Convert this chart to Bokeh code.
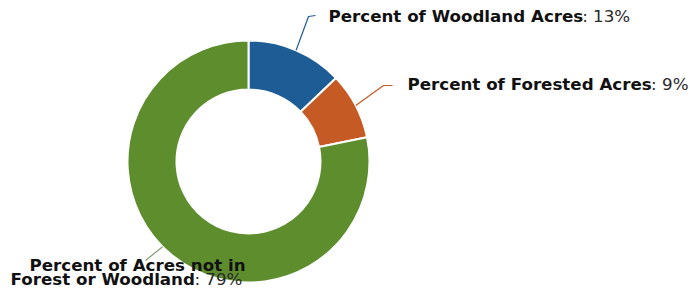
import math
from bokeh.plotting import figure
from bokeh.models import Range1d
from bokeh.core.properties import value
from bokeh.embed import file_html
from bokeh.resources import INLINE

# ---- data ----
categories = ["Percent of Woodland Acres", "Percent of Forested Acres",
              "Percent of Acres not in Forest or Woodland"]
percents = [13, 9, 79]
colors = ["#1e5c96", "#c65a24", "#5e8d2e"]
label_bold_lines = [["Percent of Woodland Acres"], ["Percent of Forested Acres"],
                    ["Percent of Acres not in", "Forest or Woodland"]]
label_values = [": 13%", ": 9%", ": 79%"]

# ---- layout ----
W, H = 690, 292
cx, cy = 248, 131
r_in, r_out = 72, 121
FS = 16.7
# approximate DejaVu Sans Bold advance widths (em)
bold_w = {'P': .733, 'e': .678, 'r': .493, 'c': .593, 'n': .712, 't': .435, ' ': .348,
          'o': .687, 'f': .435, 'W': 1.031, 'd': .716, 'l': .343, 'a': .675, 'A': .774,
          's': .595, 'F': .683, 'i': .343}


def bw(s):
    return sum(bold_w.get(ch, .65) for ch in s) * FS


# label anchors (left x, baseline y of first line), line gap, indent of later lines
label_pos = [(328, 277), (407, 209), (29, 27.5)]
line_gap = 13.5
line_indent = [0, 0, -19]
leader_pts = [(308, 276, 315, 277), (383, 207, 392, 207), (145, 32, 145, 32)]
leader_ang_offset = [0, 0, 6]
leader_colors = ["#1e5c96", "#c65a24", "#8a9a70"]

p = figure(width=W, height=H, output_backend="svg", toolbar_location=None,
           x_range=Range1d(0, W), y_range=Range1d(0, H), min_border=0)
p.axis.visible = False
p.grid.visible = False
p.outline_line_color = None
p.background_fill_color = "white"
p.border_fill_color = "white"

total = sum(percents)
cum = 0
mids = []
for v, c in zip(percents, colors):
    a0 = math.pi / 2 - 2 * math.pi * cum / total
    a1 = math.pi / 2 - 2 * math.pi * (cum + v) / total
    p.annular_wedge(x=cx, y=cy, inner_radius=r_in, outer_radius=r_out,
                    start_angle=a0, end_angle=a1, direction="clock",
                    fill_color=c, line_color="white", line_width=2)
    mids.append((cum + v / 2) / total)
    cum += v

# leader lines
for i, m in enumerate(mids):
    ang = math.pi / 2 - 2 * math.pi * m - math.radians(leader_ang_offset[i])
    sx = cx + r_out * math.cos(ang)
    sy = cy + r_out * math.sin(ang)
    ex, ey, fx, fy = leader_pts[i]
    p.line([sx, ex, fx], [sy, ey, fy], line_color=leader_colors[i], line_width=1.2)

# labels
for i in range(3):
    x0, y0 = label_pos[i]
    lines = label_bold_lines[i]
    for j, ln in enumerate(lines):
        y = y0 - j * line_gap
        x = x0 + (line_indent[i] if j > 0 else 0)
        p.text(x=[x], y=[y], text=[ln],
               text_font=value("DejaVu Sans"), text_font_style="bold",
               text_font_size=f"{FS}px", text_color="#111111",
               text_baseline="alphabetic", text_align="left")
    last = lines[-1]
    lx = x0 + (line_indent[i] if len(lines) > 1 else 0) + bw(last)
    ly = y0 - (len(lines) - 1) * line_gap
    p.text(x=[lx], y=[ly], text=[label_values[i]],
           text_font=value("DejaVu Sans"), text_font_style="normal",
           text_font_size=f"{FS}px", text_color="#2a2a2a",
           text_baseline="alphabetic", text_align="left")

open("out.html", "w").write(file_html(p, INLINE))
